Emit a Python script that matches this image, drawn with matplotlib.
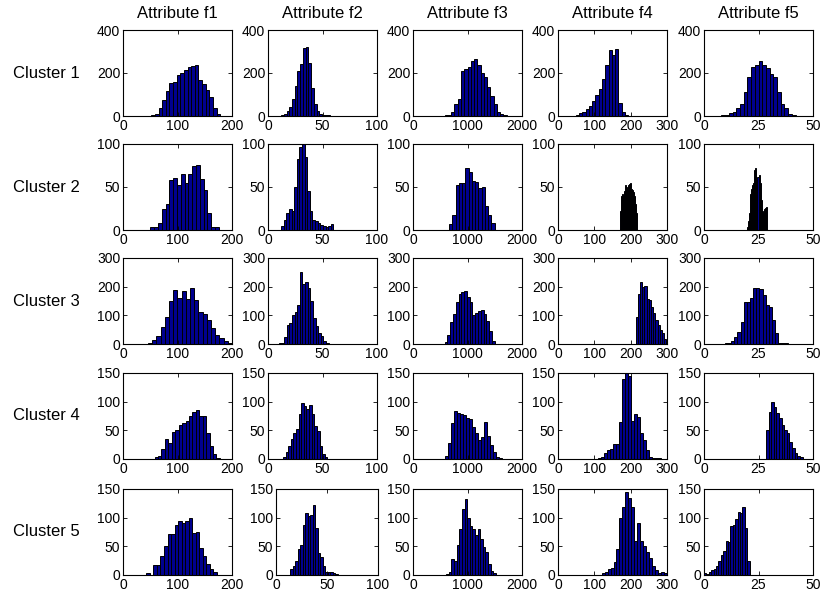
import matplotlib
matplotlib.use("Agg")
import matplotlib.pyplot as plt
import numpy as np

plt.rcParams['font.family'] = ['Liberation Sans', 'DejaVu Sans']

attributes = ["Attribute f1", "Attribute f2", "Attribute f3", "Attribute f4", "Attribute f5"]
clusters = ["Cluster 1", "Cluster 2", "Cluster 3", "Cluster 4", "Cluster 5"]

# x-axis range and ticks per attribute (column)
x_limits = [200, 100, 2000, 300, 50]
x_ticks = [[0, 100, 200], [0, 50, 100], [0, 1000, 2000], [0, 100, 200, 300], [0, 25, 50]]

# y-axis range and ticks per cluster (row)
y_limits = [400, 100, 300, 150, 150]
y_ticks = [[0, 200, 400], [0, 50, 100], [0, 100, 200, 300], [0, 50, 100, 150], [0, 50, 100, 150]]

# histogram bins: first edge, bin width, counts (per cluster, per attribute)
lo_c1 = [52, 12, 580, 40, 8]
width_c1 = [6.65, 2.5, 60, 9, 1.7]
counts_c1 = [
    [3, 8, 38, 75, 118, 152, 160, 190, 200, 212, 228, 232, 235, 168, 150, 122, 88, 38, 8, 2],
    [3, 10, 22, 40, 80, 140, 210, 240, 318, 320, 245, 130, 55, 22, 8, 3, 4, 4, 1, 0],
    [3, 5, 20, 55, 80, 210, 218, 228, 255, 265, 238, 200, 180, 135, 95, 55, 18, 10, 3, 1],
    [2, 3, 15, 18, 32, 48, 70, 100, 125, 170, 235, 305, 285, 312, 60, 20, 5, 1],
    [3, 5, 12, 20, 35, 55, 110, 180, 230, 238, 258, 235, 225, 195, 180, 110, 55, 35, 10, 5],
]

lo_c2 = [50, 12, 660, 172, 19.5]
width_c2 = [7, 2.4, 60, 2.7, 0.5]
counts_c2 = [
    [4, 4, 8, 24, 30, 58, 61, 52, 65, 55, 65, 74, 76, 59, 46, 20, 3, 3],
    [5, 12, 20, 24, 22, 50, 82, 96, 100, 85, 45, 22, 12, 10, 8, 6, 5, 4, 5, 7],
    [7, 18, 52, 55, 55, 72, 67, 57, 56, 49, 50, 28, 18, 8],
    [22, 40, 42, 40, 45, 52, 50, 47, 52, 54, 55, 48, 46, 44, 40, 30, 20],
    [3, 10, 20, 42, 48, 52, 55, 70, 72, 58, 62, 64, 55, 35, 22, 20, 24, 26, 27],
]

lo_c3 = [46, 10, 580, 214, 9.5]
width_c3 = [7.7, 2.4, 51, 6, 1.45]
counts_c3 = [
    [3, 15, 28, 60, 95, 150, 190, 162, 185, 158, 195, 155, 112, 105, 85, 55, 30, 20, 10, 3],
    [3, 5, 25, 65, 72, 100, 110, 135, 250, 210, 218, 195, 150, 90, 62, 40, 28, 12, 4, 1],
    [8, 33, 78, 105, 145, 175, 180, 185, 165, 145, 100, 108, 115, 118, 105, 80, 45, 10],
    [95, 175, 218, 198, 203, 158, 155, 130, 108, 85, 65, 50, 40, 18, 10],
    [5, 3, 12, 25, 42, 78, 145, 148, 162, 195, 196, 192, 172, 135, 128, 85, 40, 5, 5, 2],
]

lo_c4 = [58, 13.7, 580, 110, 28.4]
width_c4 = [6.3, 2.4, 55, 8.3, 1.2]
counts_c4 = [
    [3, 5, 17, 35, 28, 47, 50, 60, 62, 67, 75, 82, 86, 75, 75, 45, 22, 8, 2],
    [3, 12, 22, 35, 45, 52, 78, 97, 92, 88, 94, 78, 58, 48, 22, 8, 3],
    [5, 28, 62, 83, 81, 78, 76, 72, 70, 55, 45, 33, 38, 65, 40, 25, 12, 4, 2],
    [1, 3, 10, 16, 17, 27, 27, 65, 140, 150, 145, 67, 78, 73, 45, 33, 15, 3, 2, 2, 1],
    [50, 82, 100, 90, 80, 72, 60, 50, 45, 30, 20, 10, 5, 3],
]

lo_c5 = [43, 14, 610, 120, 0]
width_c5 = [6.45, 2.45, 48, 8.2, 1.1]
counts_c5 = [
    [3, 0, 17, 17, 33, 50, 72, 72, 88, 95, 90, 95, 100, 73, 75, 47, 33, 20, 10, 5],
    [10, 15, 25, 45, 52, 88, 108, 103, 105, 122, 82, 38, 32, 15, 5, 6, 6, 4, 2],
    [2, 5, 28, 25, 52, 80, 115, 133, 100, 85, 80, 70, 80, 62, 48, 40, 20, 7, 4],
    [3, 5, 10, 12, 22, 45, 100, 118, 145, 135, 118, 60, 90, 60, 50, 40, 30, 15, 8, 3, 5, 3],
    [3, 2, 5, 8, 10, 15, 25, 35, 42, 60, 58, 85, 88, 97, 110, 108, 118, 82, 25],
]

all_lo = [lo_c1, lo_c2, lo_c3, lo_c4, lo_c5]
all_width = [width_c1, width_c2, width_c3, width_c4, width_c5]
all_counts = [counts_c1, counts_c2, counts_c3, counts_c4, counts_c5]

W, H = 822, 598
fig = plt.figure(figsize=(W / 100, H / 100), dpi=100)

# axes boxes in pixels
col_left = [123, 268, 413, 558, 704]
row_top = [30, 144, 258, 373, 489]
box_w, box_h = 109, 86

for i in range(5):
    for j in range(5):
        left = col_left[j]
        w = box_w
        if i == 4 and j == 1:
            left, w = 276, 102
        ax = fig.add_axes([left / W, 1 - (row_top[i] + box_h) / H, w / W, box_h / H])

        counts = np.array(all_counts[i][j], dtype=float)
        edges = all_lo[i][j] + all_width[i][j] * np.arange(len(counts) + 1)
        ax.hist(edges[:-1], bins=edges, weights=counts,
                color='#00008f', edgecolor='black', linewidth=0.7)

        ax.set_xlim(0, x_limits[j])
        ax.set_ylim(0, y_limits[i])
        ax.set_xticks(x_ticks[j])
        ax.set_yticks(y_ticks[i])
        ax.tick_params(direction='in', top=True, right=True, length=3, width=0.6,
                       labelsize=10, pad=2)
        for s in ax.spines.values():
            s.set_linewidth(0.8)

        if i == 0:
            fig.text((left + w / 2) / W, 1 - 13 / H, attributes[j],
                     ha='center', va='center', fontsize=12)
    fig.text(46 / W, 1 - (row_top[i] + box_h / 2) / H, clusters[i],
             ha='center', va='center', fontsize=12)

fig.savefig("out.png", dpi=100)
